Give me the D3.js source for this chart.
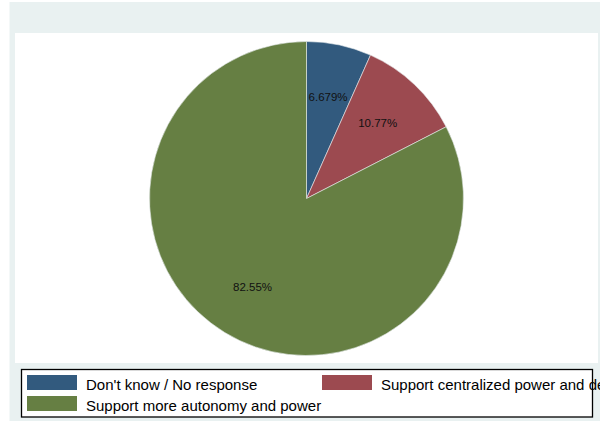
<!DOCTYPE html>
<html><head><meta charset="utf-8">
<script src="https://cdn.jsdelivr.net/npm/d3@7"></script>
<style>html,body{margin:0;padding:0;background:#fff;}svg{display:block;}</style>
</head><body>
<svg id="c" width="600" height="423"></svg>
<script>
const categories = ["Don't know / No response", "Support centralized power and decision-making", "Support more autonomy and power"];
const values = [6.679, 10.77, 82.55];
const valueLabels = ["6.679%", "10.77%", "82.55%"];
const colors = ["#325a7e", "#9c4a50", "#667f43"];

const svg = d3.select("#c");
const font = "'Liberation Sans', Arial, sans-serif";

// graph region
svg.append("rect").attr("x", 9.5).attr("y", 2).attr("width", 590.5).attr("height", 419).attr("fill", "#e9f1f1");
// plot region
svg.append("rect").attr("x", 15).attr("y", 33).attr("width", 583).attr("height", 330).attr("fill", "#ffffff");

const cx = 306.5, cy = 198.5, r = 157;
const pie = d3.pie().sort(null).value(d => d);
const arcs = pie(values);
const arc = d3.arc().innerRadius(0).outerRadius(r);
const labelArc = d3.arc().innerRadius(r * 0.66).outerRadius(r * 0.66);

const g = svg.append("g").attr("transform", `translate(${cx},${cy})`);
g.selectAll("path").data(arcs).join("path")
  .attr("d", arc)
  .attr("fill", (d, i) => colors[i])
  .attr("stroke", "#e8ecef").attr("stroke-width", 0.6);

g.selectAll("text").data(arcs).join("text")
  .attr("x", d => labelArc.centroid(d)[0])
  .attr("y", d => labelArc.centroid(d)[1])
  .attr("dy", "0.35em")
  .attr("text-anchor", "middle")
  .attr("font-family", font).attr("font-size", "11.5px").attr("fill", "#111")
  .text((d, i) => valueLabels[i]);

// legend
const lg = svg.append("g");
lg.append("rect").attr("x", 21.5).attr("y", 369.5).attr("width", 571).attr("height", 47.5)
  .attr("fill", "#fff").attr("stroke", "#000").attr("stroke-width", 1.3);
const legendPos = [[27, 375], [322, 375], [27, 396]];
categories.forEach((c, i) => {
  const [x, y] = legendPos[i];
  lg.append("rect").attr("x", x).attr("y", y).attr("width", 50).attr("height", 15).attr("fill", colors[i]);
  lg.append("text").attr("x", x + 59).attr("y", y + 14.5)
    .attr("font-family", font).attr("font-size", "15px").attr("fill", "#000").text(c);
});
</script>
</body></html>
